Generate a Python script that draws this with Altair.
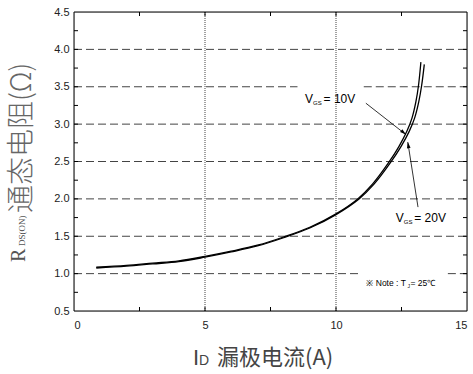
import altair as alt
import pandas as pd

# ---- data ----
id_10v = [0.85, 2, 3, 4, 5, 6, 7, 8, 9, 10, 10.83, 11.4, 12.0, 12.4, 12.7, 12.9, 13.05, 13.15, 13.24]
r_10v = [1.085, 1.11, 1.14, 1.17, 1.23, 1.30, 1.38, 1.49, 1.62, 1.80, 2.0, 2.2, 2.48, 2.7, 2.9, 3.08, 3.3, 3.52, 3.83]
id_20v = [0.85, 2, 3, 4, 5, 6, 7, 8, 9, 10, 10.88, 11.46, 12.07, 12.48, 12.79, 13.0, 13.16, 13.27, 13.37]
r_20v = [1.075, 1.10, 1.13, 1.16, 1.22, 1.29, 1.37, 1.48, 1.61, 1.79, 2.0, 2.2, 2.48, 2.7, 2.9, 3.08, 3.3, 3.52, 3.80]

x_labels = [0, 5, 10, 15]
y_labels = [0.5, 1.0, 1.5, 2.0, 2.5, 3.0, 3.5, 4.0, 4.5]
x_ticks = [2.5, 5, 7.5, 10, 12.5]
y_ticks = [0.75, 1.0, 1.25, 1.5, 1.75, 2.0, 2.25, 2.5, 2.75, 3.0, 3.25, 3.5, 3.75, 4.0, 4.25]
vgrid = [5, 10]
# horizontal dashed grid segments (y, from, to) - some broken around labels
hgrid_y = [1.0, 1.0, 1.5, 2.0, 2.5, 3.0, 3.5, 3.5, 4.0]
hgrid_x0 = [0, 14.27, 0, 0, 0, 0, 0, 11.06, 0]
hgrid_x1 = [10.87, 15, 15, 15, 15, 15, 8.53, 15, 15]

# arrows (tail -> head) in data units
arrow_x0 = [11.14, 13.13]
arrow_y0 = [3.28, 1.89]
arrow_x1 = [12.67, 12.74]
arrow_y1 = [2.86, 2.76]
arrow_angle = [39.5, 261]

W, H = 393, 299
xs = alt.Scale(domain=[0, 15], nice=False)
ys = alt.Scale(domain=[0.5, 4.5], nice=False)
XAX = alt.Axis(values=x_labels, ticks=False, domain=False, grid=False, labelFont="Liberation Sans",
               labelFontSize=11, labelColor="#222", labelPadding=8, title=None, format="d")
YAX = alt.Axis(values=y_labels, ticks=False, domain=False, grid=False, labelFont="Liberation Sans",
               labelFontSize=11, labelColor="#222", labelPadding=5, title=None, format=".1f")


def X(f):
    return alt.X(f, scale=xs, axis=XAX)


def Y(f):
    return alt.Y(f, scale=ys, axis=YAX)


curves = pd.DataFrame({
    "id": id_10v + id_20v,
    "r": r_10v + r_20v,
    "s": ["10V"] * len(id_10v) + ["20V"] * len(id_20v),
})

hgrid = alt.Chart(pd.DataFrame({"y": hgrid_y, "x0": hgrid_x0, "x1": hgrid_x1})).mark_rule(
    color="#444", strokeWidth=1, strokeDash=[8, 4]).encode(x=X("x0:Q"), x2="x1:Q", y=Y("y:Q"))

vg = alt.Chart(pd.DataFrame({"x": vgrid})).mark_rule(color="#444", strokeWidth=1, strokeDash=[1, 1]).encode(
    x=X("x:Q"))

tdf_x = pd.DataFrame({"x": x_ticks})
tdf_y = pd.DataFrame({"y": y_ticks})
tick_b = alt.Chart(tdf_x).mark_rule(color="#000").encode(x=X("x:Q"), y=alt.value(H), y2=alt.value(H - 4))
tick_t = alt.Chart(tdf_x).mark_rule(color="#000").encode(x=X("x:Q"), y=alt.value(0), y2=alt.value(4))
tick_l = alt.Chart(tdf_y).mark_rule(color="#000").encode(y=Y("y:Q"), x=alt.value(0), x2=alt.value(4))
tick_r = alt.Chart(tdf_y).mark_rule(color="#000").encode(y=Y("y:Q"), x=alt.value(W), x2=alt.value(W - 4))

frame = alt.Chart(pd.DataFrame({"a": [0]})).mark_rect(fillOpacity=0, stroke="#000", strokeWidth=1).encode(
    x=alt.value(0), x2=alt.value(W), y=alt.value(0), y2=alt.value(H))

lines = alt.Chart(curves).mark_line(color="#000", strokeWidth=1.3, interpolate="catmull-rom").encode(
    x=X("id:Q"), y=Y("r:Q"), detail="s:N")

adf = pd.DataFrame({"x0": arrow_x0, "y0": arrow_y0, "x1": arrow_x1, "y1": arrow_y1, "a": arrow_angle})
arrow_lines = alt.Chart(adf).mark_rule(color="#000", strokeWidth=0.8).encode(
    x=X("x0:Q"), y=Y("y0:Q"), x2="x1:Q", y2="y1:Q")
arrow_heads = alt.Chart(adf).mark_point(shape="M 0 0 L -1 -0.3 L -1 0.3 Z", filled=True, color="#000",
                                        size=150, opacity=1).encode(
    x=X("x1:Q"), y=Y("y1:Q"), angle=alt.Angle("a:Q", scale=None))

# annotations (anchor positions in data units)
lab_df = pd.DataFrame({"x": [8.82, 12.28], "y": [3.283, 1.691], "v": ["= 10V", "= 20V"]})
lab_V = alt.Chart(lab_df).mark_text(text="V", align="left", baseline="alphabetic", font="Liberation Sans",
                                    fontSize=12, color="#000").encode(x=X("x:Q"), y=Y("y:Q"))
lab_GS = alt.Chart(lab_df).mark_text(text="GS", align="left", baseline="alphabetic", font="Liberation Sans",
                                     fontSize=6, dx=8, dy=2, color="#000").encode(x=X("x:Q"), y=Y("y:Q"))
lab_rest = alt.Chart(lab_df).mark_text(align="left", baseline="alphabetic", font="Liberation Sans",
                                       fontSize=12, dx=18.5, color="#000").encode(x=X("x:Q"), y=Y("y:Q"), text="v:N")

note_df = pd.DataFrame({"x": [11.16], "y": [0.834]})
note1 = alt.Chart(note_df).mark_text(text="※ Note : T", align="left", baseline="alphabetic",
                                     font="Liberation Sans", fontSize=8.5, color="#000").encode(x=X("x:Q"), y=Y("y:Q"))
note2 = alt.Chart(note_df).mark_text(text="J", align="left", baseline="alphabetic",
                                     font="Liberation Sans", fontSize=5, dx=41, dy=2, color="#000").encode(x=X("x:Q"), y=Y("y:Q"))
note3 = alt.Chart(note_df).mark_text(text="= 25℃", align="left", baseline="alphabetic",
                                     font="Liberation Sans", fontSize=8.5, dx=44, color="#000").encode(x=X("x:Q"), y=Y("y:Q"))


# axis titles
def title_text(txt, x, y, font, size, angle=0, color="#555", weight=None):
    kw = dict(text=txt, align="left", baseline="alphabetic", font=font, fontSize=size, color=color)
    if angle:
        kw["angle"] = angle
    if weight:
        kw["fontWeight"] = weight
    return alt.Chart(pd.DataFrame({"a": [0]})).mark_text(**kw).encode(x=alt.value(x), y=alt.value(y))


yt1 = title_text("R", -49, 250, "Liberation Serif", 20, 270, color="#555")
yt2 = title_text("DS(ON)", -49, 234, "Liberation Serif", 9, 270, color="#555")
yt3 = title_text("通态电阻(Ω)", -43, 201, "Noto Sans CJK SC", 28, 270, color="#666", weight=300)
xt1 = title_text("I", 119, 353, "Liberation Sans", 22, color="#444")
xt2 = title_text("D", 125, 353, "Liberation Sans", 14, color="#444")
xt3 = title_text("漏极电流(A)", 143, 353, "Noto Sans CJK SC", 22, color="#444")

chart = alt.layer(
    hgrid, vg, tick_b, tick_t, tick_l, tick_r, frame, lines, arrow_lines, arrow_heads,
    lab_V, lab_GS, lab_rest, note1, note2, note3,
    yt1, yt2, yt3, xt1, xt2, xt3,
).properties(
    width=W, height=H,
    autosize=alt.AutoSizeParams(type="none"),
    padding={"left": 74, "top": 12, "right": 6, "bottom": 63},
).configure_view(stroke=None).configure(background="#ffffff")

chart.save("out.html", embed_options={"renderer": "svg", "actions": False})
